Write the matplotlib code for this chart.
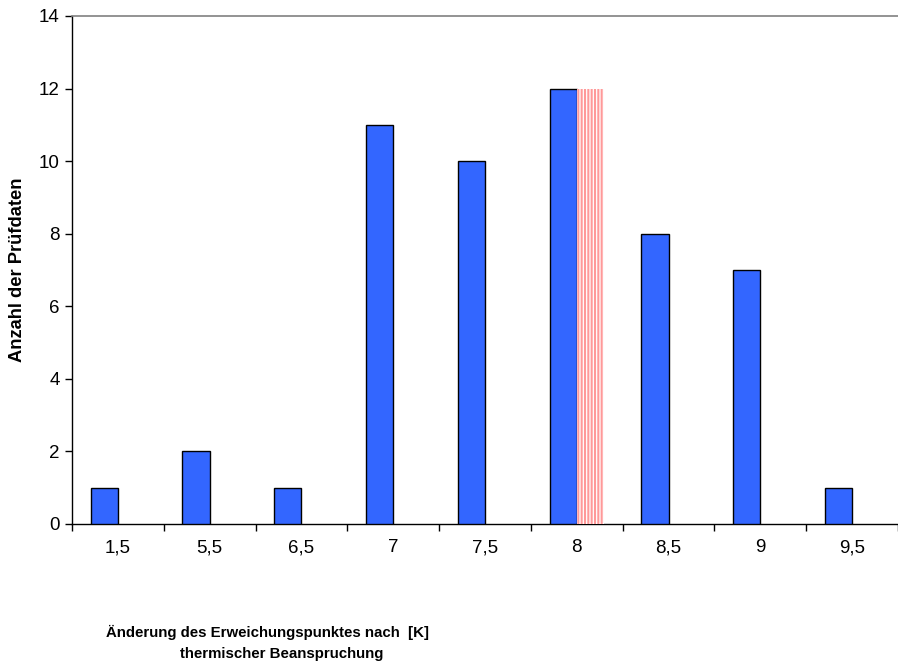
import matplotlib
matplotlib.use("Agg")
import matplotlib.pyplot as plt
import numpy as np

plt.rcParams['font.family'] = ['Liberation Sans', 'DejaVu Sans']
plt.rcParams['hatch.linewidth'] = 1.5

categories = ["1,5", "5,5", "6,5", "7", "7,5", "8", "8,5", "9", "9,5"]
counts = [1, 2, 1, 11, 10, 12, 8, 7, 1]
highlight = [0, 0, 0, 0, 0, 12, 0, 0, 0]

W, H = 898, 670
fig = plt.figure(figsize=(W / 100, H / 100), dpi=100)
left, right, top, bottom = 72, 898, 16, 524
ax = fig.add_axes([left / W, 1 - bottom / H, (right - left) / W, (bottom - top) / H])

x = np.arange(len(categories))
bw = 0.297
ax.bar(x - bw / 2, counts, width=bw, color="#3366FF", edgecolor="black", linewidth=1.0, zorder=3)
for xi, v in zip(x, highlight):
    if v > 0:
        ax.bar(xi + bw / 2, v, width=bw, color="white", edgecolor="#FF9999", hatch="|||||",
               linewidth=0, zorder=3)

cat_w = (814 - 72) / 8
ax.set_xlim(-0.5, -0.5 + (right - left) / cat_w)
ax.set_ylim(0, 14)
ax.set_yticks(np.arange(0, 15, 2))
ax.set_xticks(x)
ax.set_xticklabels(categories)
ax.set_xticks(np.arange(-0.5, 9, 1), minor=True)
ax.tick_params(axis='x', which='major', length=0, pad=11, labelsize=13.5)
ax.tick_params(axis='x', which='minor', length=5, width=1, direction='out')
ax.tick_params(axis='y', length=5, width=1, direction='out', labelsize=13.5, pad=4)

ax.spines['right'].set_visible(False)
ax.spines['top'].set_color('#808080')
ax.spines['top'].set_linewidth(1.2)
ax.spines['left'].set_linewidth(1.0)
ax.spines['bottom'].set_linewidth(1.0)

fig.text(18 / W, 1 - 270 / H, "Anzahl der Prüfdaten", rotation=90, ha='center', va='center',
         fontsize=13.2, fontweight='bold')
fig.text(267 / W, 1 - 632 / H, "Änderung des Erweichungspunktes nach  [K]", ha='center', va='center',
         fontsize=10.8, fontweight='bold')
fig.text(282 / W, 1 - 654 / H, "thermischer Beanspruchung", ha='center', va='center',
         fontsize=10.8, fontweight='bold')

fig.savefig("out.png", dpi=100)
